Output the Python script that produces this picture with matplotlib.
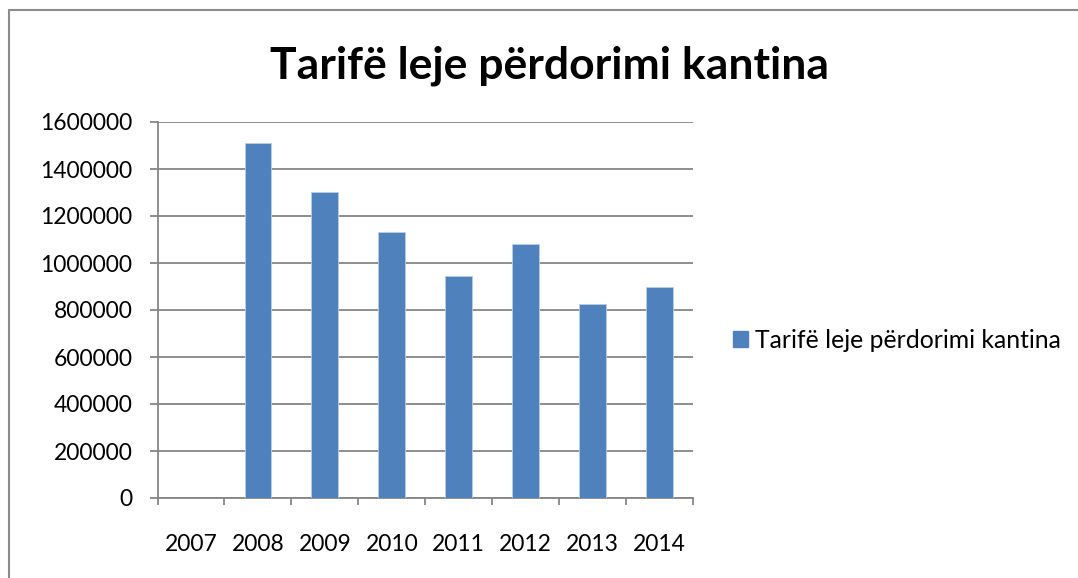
import matplotlib
matplotlib.use("Agg")
import matplotlib.pyplot as plt
from matplotlib.patches import Rectangle, Patch
import numpy as np

years = ["2007", "2008", "2009", "2010", "2011", "2012", "2013", "2014"]
values = [0, 1510000, 1302000, 1132000, 945000, 1080000, 825000, 898000]
yticks = [0, 200000, 400000, 600000, 800000, 1000000, 1200000, 1400000, 1600000]
title = "Tarifë leje përdorimi kantina"
series_name = "Tarifë leje përdorimi kantina"

plt.rcParams['font.family'] = ['Lato', 'DejaVu Sans']

W, H = 1078, 578
fig = plt.figure(figsize=(W/100, H/100), dpi=100)

# chart border
fig.patches.append(Rectangle((9/W, -0.1), 1.2, 1 - 10/H + 0.1, transform=fig.transFigure,
                             fill=False, edgecolor='#8c8c8c', linewidth=1.5))

ax = fig.add_axes([157.5/W, 1 - 498/H, (693-157.5)/W, (498-122)/H])
x = np.arange(len(years))
ax.bar(x, values, width=0.40, color='#4F81BD', edgecolor='#b9cde5', linewidth=0.6, zorder=3,
       label=series_name)
ax.set_xlim(-0.5, len(years) - 0.5)
ax.set_ylim(0, 1600000)
ax.set_yticks(yticks)
ax.set_yticklabels([str(v) for v in yticks], fontsize=16.5)
ax.yaxis.grid(True, color='#868686', linewidth=1.3, zorder=0)
ax.set_axisbelow(True)

ax.set_xticks(np.arange(len(years) + 1) - 0.5)
ax.set_xticklabels([])
ax.set_xticks(x, minor=True)
ax.set_xticklabels(years, minor=True, fontsize=16.5)
ax.tick_params(axis='x', which='major', length=5, width=1.3, color='#868686', direction='out')
ax.tick_params(axis='x', which='minor', length=0, pad=26)
ax.tick_params(axis='y', length=6, width=1.3, color='#868686', pad=12)

for s in ['top', 'right']:
    ax.spines[s].set_visible(False)
for s in ['left', 'bottom']:
    ax.spines[s].set_color('#868686')
    ax.spines[s].set_linewidth(1.3)

fig.text(550/W, 1 - 78/H, title, ha='center', va='baseline', fontsize=32, fontweight='bold')

handle = Patch(facecolor='#4F81BD', edgecolor='#4F81BD')
fig.legend([handle], [series_name], loc='center left', bbox_to_anchor=(733/W, 1 - 340/H),
           frameon=False, fontsize=17.8, handlelength=0.6, handleheight=0.6, handletextpad=0.3,
           borderaxespad=0, borderpad=0)

fig.savefig("out.png", dpi=100)
